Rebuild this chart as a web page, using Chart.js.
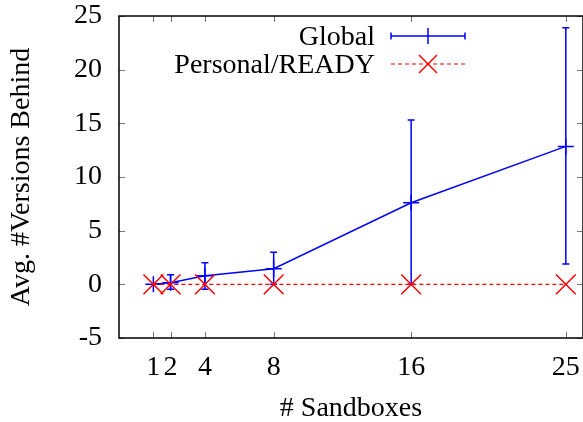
<!DOCTYPE html>
<html>
<head>
<meta charset="utf-8">
<script src="https://cdn.jsdelivr.net/npm/chart.js@4/dist/chart.umd.min.js"></script>
<style>
html,body{margin:0;padding:0;background:#fff;}
#wrap{width:583px;height:422px;position:relative;}
</style>
</head>
<body>
<div id="wrap"><canvas id="c" width="583" height="422"></canvas></div>
<script>
// ---- data ----
const sandboxes   = [1, 2, 4, 8, 16, 25];
const globalAvg   = [0, 0.15, 0.8, 1.45, 7.6, 12.85];
const globalLow   = [0, -0.45, -0.45, 0, 0, 1.9];
const globalHigh  = [0, 0.9, 2.0, 3.0, 15.3, 23.9];
const personalAvg = [0, 0, 0, 0, 0, 0];
const yTicks      = [-5, 0, 5, 10, 15, 20, 25];
const seriesNames = ['Global', 'Personal/READY'];

const BLUE = '#0000ff', RED = '#ff0000';
const FONT = "'Liberation Serif', 'DejaVu Serif', serif";
const FS = 28;

const frame = {
  id: 'frame',
  beforeDatasetsDraw(chart) {
    const {ctx, chartArea: a, scales: {x, y}} = chart;
    ctx.save();
    ctx.strokeStyle = '#777';
    ctx.lineWidth = 1;
    ctx.beginPath();
    sandboxes.forEach(v => {
      const px = Math.round(x.getPixelForValue(v)) + 0.5;
      ctx.moveTo(px, a.bottom); ctx.lineTo(px, a.bottom - 6);
      ctx.moveTo(px, a.top); ctx.lineTo(px, a.top + 6);
    });
    yTicks.forEach(v => {
      const py = Math.round(y.getPixelForValue(v)) + 0.5;
      ctx.moveTo(a.left, py); ctx.lineTo(a.left + 6, py);
      ctx.moveTo(a.right - 1, py); ctx.lineTo(a.right - 6, py);
    });
    ctx.stroke();
    ctx.strokeStyle = '#000';
    ctx.lineWidth = 1.5;
    ctx.strokeRect(a.left, a.top, a.right - a.left, a.bottom - a.top);
    ctx.strokeStyle = BLUE;
    ctx.lineWidth = 1.5;
    ctx.beginPath();
    sandboxes.forEach((v, i) => {
      if (globalHigh[i] === globalLow[i]) return;
      const px = x.getPixelForValue(v);
      const pl = y.getPixelForValue(globalLow[i]);
      const ph = y.getPixelForValue(globalHigh[i]);
      ctx.moveTo(px, pl); ctx.lineTo(px, ph);
      ctx.moveTo(px - 3.5, pl); ctx.lineTo(px + 3.5, pl);
      ctx.moveTo(px - 3.5, ph); ctx.lineTo(px + 3.5, ph);
    });
    ctx.stroke();
    ctx.restore();
  },
  afterDraw(chart) {
    const {ctx} = chart;
    ctx.save();
    ctx.font = FS + 'px ' + FONT;
    ctx.fillStyle = '#000';
    ctx.textAlign = 'right';
    ctx.textBaseline = 'middle';
    const tx = 375, x0 = 391, x1 = 465, xc = 428;
    const y0 = 36, y1 = 64;
    ctx.fillText(seriesNames[0], tx, y0 + 2);
    ctx.fillText(seriesNames[1], tx, y1 + 2);
    ctx.strokeStyle = BLUE; ctx.lineWidth = 1.5;
    ctx.beginPath();
    ctx.moveTo(x0, y0); ctx.lineTo(x1, y0);
    ctx.moveTo(x0, y0 - 3.5); ctx.lineTo(x0, y0 + 3.5);
    ctx.moveTo(x1, y0 - 3.5); ctx.lineTo(x1, y0 + 3.5);
    ctx.moveTo(xc, y0 - 8); ctx.lineTo(xc, y0 + 8);
    ctx.stroke();
    ctx.strokeStyle = RED; ctx.lineWidth = 1.2;
    ctx.setLineDash([4, 3]);
    ctx.beginPath();
    ctx.moveTo(x0, y1); ctx.lineTo(x1, y1);
    ctx.stroke();
    ctx.setLineDash([]);
    ctx.lineWidth = 1.5;
    ctx.beginPath();
    ctx.moveTo(xc - 9, y1 - 9); ctx.lineTo(xc + 9, y1 + 9);
    ctx.moveTo(xc - 9, y1 + 9); ctx.lineTo(xc + 9, y1 - 9);
    ctx.stroke();
    ctx.restore();
  }
};

new Chart(document.getElementById('c'), {
  type: 'line',
  data: {
    datasets: [
      {
        label: seriesNames[0],
        data: sandboxes.map((v, i) => ({x: v, y: globalAvg[i]})),
        borderColor: BLUE, backgroundColor: BLUE,
        borderWidth: 1.5,
        pointStyle: 'cross', pointRadius: 8, pointBorderWidth: 1.5,
        pointBorderColor: BLUE, pointHoverRadius: 8,
        tension: 0, fill: false, order: 1, clip: false
      },
      {
        label: seriesNames[1],
        data: sandboxes.map((v, i) => ({x: v, y: personalAvg[i]})),
        borderColor: RED, backgroundColor: RED,
        borderWidth: 1.2, borderDash: [4, 3],
        pointStyle: 'crossRot', pointRadius: 14, pointBorderWidth: 1.5,
        pointBorderColor: RED, pointHoverRadius: 14,
        tension: 0, fill: false, order: 0, clip: false
      }
    ]
  },
  options: {
    responsive: false,
    animation: false,
    layout: {autoPadding: false, padding: {left: 0, right: 0, top: 16, bottom: 0}},
    plugins: {legend: {display: false}, tooltip: {enabled: false}},
    scales: {
      x: {
        type: 'linear', min: -1, max: 26,
        grid: {display: false, drawTicks: false},
        border: {display: false},
        afterBuildTicks: s => { s.ticks = sandboxes.map(v => ({value: v})); },
        afterFit: s => { s.height = 84; s.paddingLeft = 0; s.paddingRight = 0; },
        ticks: {color: '#000', font: {family: FONT, size: FS}, padding: 13, maxRotation: 0, autoSkip: false},
        title: {display: true, text: '# Sandboxes', color: '#000', font: {family: FONT, size: FS}, padding: {top: 0, bottom: -3}}
      },
      y: {
        type: 'linear', min: -5, max: 25,
        grid: {display: false, drawTicks: false},
        border: {display: false},
        afterBuildTicks: s => { s.ticks = yTicks.map(v => ({value: v})); },
        afterFit: s => { s.width = 119; s.paddingTop = 0; s.paddingBottom = 0; },
        ticks: {color: '#000', font: {family: FONT, size: FS}, padding: 17},
        title: {display: true, text: 'Avg. #Versions Behind', color: '#000', font: {family: FONT, size: FS}, padding: {top: 5, bottom: 0}}
      }
    }
  },
  plugins: [frame]
});
</script>
</body>
</html>
